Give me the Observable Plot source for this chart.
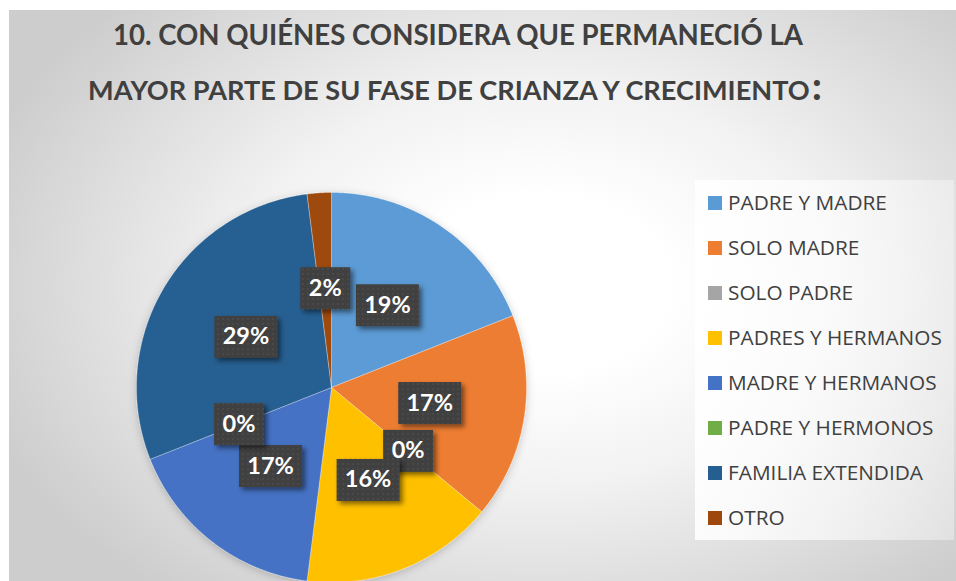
<!DOCTYPE html>
<html><head><meta charset="utf-8">
<script src="https://cdn.jsdelivr.net/npm/d3@7"></script>
<script src="https://cdn.jsdelivr.net/npm/@observablehq/plot@0.6"></script>
<style>
html,body{margin:0;padding:0}
body{width:956px;height:581px;overflow:hidden;background:#fff;position:relative;font-family:Lato,sans-serif}
#frame{position:absolute;left:9px;top:10px;width:947px;height:571px;
  background:radial-gradient(ellipse 62% 70% at 56% 48%, #ffffff 0%, #ffffff 22%, #f2f2f2 50%, #cdcdcd 100%);}
#overlay{position:absolute;left:0;top:0}
#pie{position:absolute;left:136px;top:192px}
#pie svg{overflow:visible}
</style></head>
<body>
<div id="frame"></div>
<svg width="0" height="0" style="position:absolute">
  <defs>
    <pattern id="dots" width="5" height="5" patternUnits="userSpaceOnUse">
      <rect width="5" height="5" fill="#404040"/>
      <rect x="1" y="1" width="1" height="1" fill="#5f5f5f"/>
    </pattern>
    <filter id="shadow" x="-40%" y="-40%" width="180%" height="180%">
      <feDropShadow dx="3" dy="3" stdDeviation="2.5" flood-color="#000" flood-opacity="0.5"/>
    </filter>
    <filter id="pieshadow" x="-20%" y="-20%" width="140%" height="140%">
      <feDropShadow dx="0" dy="2" stdDeviation="4" flood-color="#000" flood-opacity="0.2"/>
    </filter>
    <linearGradient id="legbg" x1="0" x2="1" y1="0" y2="0">
      <stop offset="0" stop-color="#ffffff" stop-opacity="0.9"/>
      <stop offset="1" stop-color="#ffffff" stop-opacity="0.35"/>
    </linearGradient>
  </defs>
</svg>
<svg id="overlay" width="956" height="581"></svg>
<div id="pie"></div>
<script>
const categories = ["PADRE Y MADRE","SOLO MADRE","SOLO PADRE","PADRES Y HERMANOS","MADRE Y HERMANOS","PADRE Y HERMONOS","FAMILIA EXTENDIDA","OTRO"];
const values = [19,17,0,16,17,0,29,2];
const labels = ["19%","17%","0%","16%","17%","0%","29%","2%"];
const colors = ["#5B9BD5","#ED7D31","#A5A5A5","#FFC000","#4472C4","#70AD47","#255E91","#9E480E"];
const titleLines = ["10. CON QUIÉNES CONSIDERA QUE PERMANECIÓ LA","MAYOR PARTE DE SU FASE DE CRIANZA Y CRECIMIENTO", ":"];

// ---- pie geometry from the values ----
const total = d3.sum(values);
let acc = 0;
const slices = values.map((v, i) => {
  const a0 = acc / total * 2 * Math.PI;
  acc += v;
  const a1 = acc / total * 2 * Math.PI;
  return {cat: categories[i], label: labels[i], value: v, a0, a1};
});
const slicePts = [];
for (const s of slices) {
  if (s.value <= 0) continue;
  slicePts.push({cat: s.cat, x: 0, y: 0});
  const n = Math.max(2, Math.ceil((s.a1 - s.a0) / (Math.PI / 720)));
  for (let k = 0; k <= n; k++) {
    const a = s.a0 + (s.a1 - s.a0) * k / n;
    slicePts.push({cat: s.cat, x: Math.sin(a), y: Math.cos(a)});
  }
  slicePts.push({cat: s.cat, x: 0, y: 0});
}
const labelRows = slices.map(s => {
  const m = (s.a0 + s.a1) / 2, r = 0.51;
  return {label: s.label, x: r * Math.sin(m), y: r * Math.cos(m)};
});

const R = 195;
const chart = Plot.plot({
  width: 2 * R, height: 2 * R, margin: 0,
  x: {domain: [-1, 1], axis: null},
  y: {domain: [-1, 1], axis: null},
  color: {domain: categories, range: colors},
  style: {background: "transparent", overflow: "visible"},
  marks: [
    Plot.line(slicePts, {x: "x", y: "y", z: "cat", fill: "cat", stroke: "#ffffff", strokeWidth: 0.6, strokeOpacity: 0.5}),
    Plot.text(labelRows, {
      x: "x", y: "y", text: "label", fill: "#ffffff",
      fontSize: 23.5, fontWeight: "bold", fontFamily: "Lato, sans-serif",
      render(index, scales, vals, dims, ctx, next) {
        const g = next(index, scales, vals, dims, ctx);
        const texts = Array.from(g.querySelectorAll("text"));
        texts.forEach((t, k) => {
          const i = index[k];
          const w = labelRows[i].label.length > 2 ? 63 : 50, h = 42;
          const rect = document.createElementNS("http://www.w3.org/2000/svg", "rect");
          rect.setAttribute("x", vals.x[i] - w / 2);
          rect.setAttribute("y", vals.y[i] - h / 2);
          rect.setAttribute("width", w);
          rect.setAttribute("height", h);
          rect.setAttribute("fill", "url(#dots)");
          rect.setAttribute("stroke", "none");
          rect.setAttribute("filter", "url(#shadow)");
          t.parentNode.insertBefore(rect, t);
        });
        return g;
      }
    })
  ]
});
const lineG = chart.querySelector('g[aria-label="line"]');
if (lineG) lineG.setAttribute("filter", "url(#pieshadow)");
document.getElementById("pie").appendChild(chart);

// ---- title and legend ----
const ov = d3.select("#overlay");
function fitText(sel, target, base) {
  const len = sel.node().getComputedTextLength();
  if (len > 0) sel.attr("font-size", base * target / len);
  return sel;
}
const t1 = ov.append("text").attr("x", 458).attr("y", 45).attr("text-anchor", "middle")
  .attr("font-family", "Lato, sans-serif").attr("font-weight", 700).attr("font-size", 28)
  .attr("fill", "#404040").text(titleLines[0]);
fitText(t1, 690, 28);
const t2 = ov.append("text").attr("x", 88).attr("y", 100)
  .attr("font-family", "Lato, sans-serif").attr("font-weight", 700).attr("font-size", 28)
  .attr("fill", "#404040").text(titleLines[1]);
fitText(t2, 722, 28);
const end2 = 88 + t2.node().getComputedTextLength();
ov.append("text").attr("x", end2 + 2).attr("y", 100)
  .attr("font-family", "Lato, sans-serif").attr("font-weight", 700).attr("font-size", 40)
  .attr("fill", "#404040").text(titleLines[2]);

ov.append("rect").attr("x", 695).attr("y", 180).attr("width", 259).attr("height", 360)
  .attr("fill", "url(#legbg)");
const leg = ov.append("g");
categories.forEach((c, i) => {
  const by = 210 + i * 45;
  leg.append("rect").attr("x", 708).attr("y", by - 14).attr("width", 14).attr("height", 14).attr("fill", colors[i]);
  leg.append("text").attr("x", 728).attr("y", by)
    .attr("font-family", "'Open Sans', sans-serif").attr("font-size", 20.8).attr("fill", "#404040")
    .text(c);
});
</script>
</body></html>
